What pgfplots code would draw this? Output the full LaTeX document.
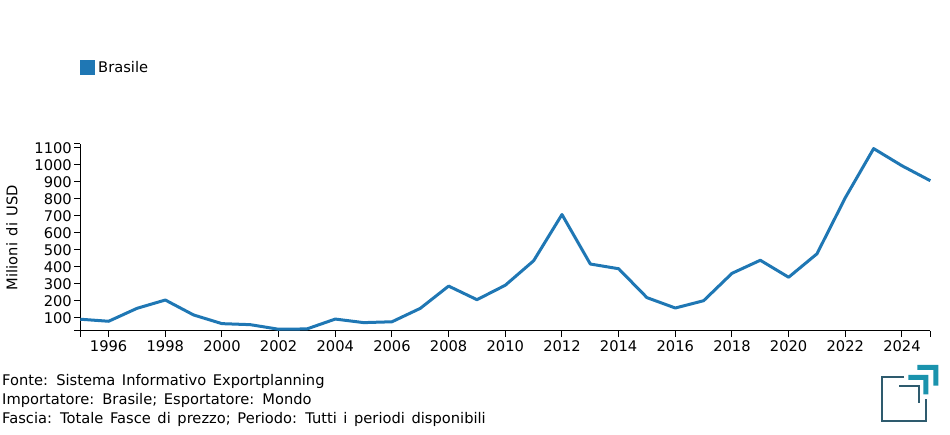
\documentclass[border=0pt]{standalone}
\usepackage{fontspec}
\setmainfont{DejaVu Sans}
\usepackage{pgfplots}
\pgfplotsset{compat=1.18}
\definecolor{brasile}{RGB}{31,119,180}
\definecolor{logodark}{RGB}{46,91,110}
\definecolor{logoteal}{RGB}{26,147,173}
\newcommand{\fs}{\fontsize{14.67bp}{17bp}\selectfont\spaceskip=6.6bp\relax}
\begin{document}
\begin{tikzpicture}
\path[use as bounding box] (0,0) rectangle (950bp,435bp);
\begin{axis}[
  at={(80.3bp,104.3bp)}, anchor=south west,
  width=850bp, height=186.7bp, scale only axis,
  xmin=1995, xmax=2025, ymin=23.5, ymax=1122,
  axis x line=bottom, axis y line=left,
  axis line style={-, line width=1bp, black},
  xtick={1996,1998,...,2024},
  ytick={100,200,...,1100},
  extra x ticks={1995,2025}, extra x tick labels={},
  extra y ticks={23.5,1122}, extra y tick labels={},
  tick align=outside, major tick length=6bp,
  tick style={line width=1bp, black},
  extra tick style={tick style={line width=1bp, black}},
  tick label style={font=\fs},
  yticklabel style={xshift=1bp},
  /pgf/number format/assume math mode=true,
  /pgf/number format/1000 sep={},
  clip=false,
]
\addplot[brasile, line width=3bp, line join=round] coordinates {
(1995,91) (1996,79) (1997,155) (1998,204) (1999,116) (2000,65) (2001,59)
(2002,32) (2003,34) (2004,92) (2005,71) (2006,76) (2007,155) (2008,286)
(2009,206) (2010,291) (2011,435) (2012,707) (2013,416) (2014,388) (2015,218)
(2016,157) (2017,200) (2018,361) (2019,438) (2020,338) (2021,476) (2022,806)
(2023,1095) (2024,994) (2025,906)
};
\end{axis}
% y label
\node[rotate=90, font=\fs, inner sep=0] at (12bp,197.5bp) {Milioni di USD};
% legend
\fill[brasile] (80bp,360bp) rectangle (95bp,375bp);
\node[anchor=west, font=\fs, inner sep=0] at (98bp,367.5bp) {Brasile};
% footer
\node[anchor=base west, font=\fs, inner sep=0] at (2bp,49bp) {Fonte: Sistema Informativo Exportplanning};
\node[anchor=base west, font=\fs, inner sep=0] at (2bp,30.3bp) {Importatore: Brasile; Esportatore: Mondo};
\node[anchor=base west, font=\fs, inner sep=0] at (2bp,11.3bp) {Fascia: Totale Fasce di prezzo; Periodo: Tutti i periodi disponibili};
% logo
\draw[logodark, line width=2bp] (904bp,58bp) -- (881.7bp,58bp) -- (881.7bp,14bp) -- (926bp,14bp) -- (926bp,36bp);
\draw[logodark, line width=2bp] (899.3bp,49.3bp) -- (918.7bp,49.3bp) -- (918.7bp,31.7bp);
\fill[logoteal] (908.3bp,60bp) -- (928.3bp,60bp) -- (928.3bp,40.7bp) -- (923.3bp,40.7bp) -- (923.3bp,55bp) -- (908.3bp,55bp) -- cycle;
\fill[logoteal] (917.3bp,70bp) -- (938.3bp,70bp) -- (938.3bp,49.3bp) -- (933.3bp,49.3bp) -- (933.3bp,65bp) -- (917.3bp,65bp) -- cycle;
\end{tikzpicture}
\end{document}
